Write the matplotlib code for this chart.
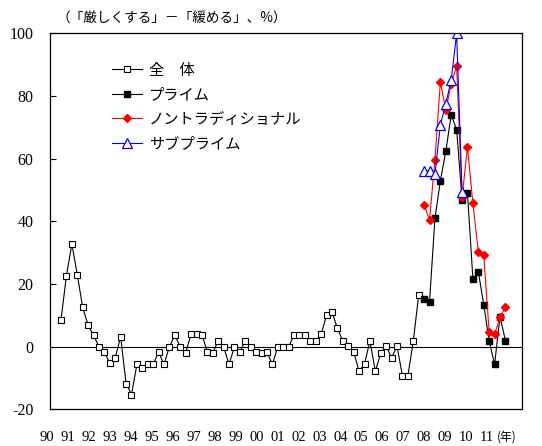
import numpy as np
import matplotlib.pyplot as plt

plt.rcParams['font.family'] = ['Liberation Serif', 'Noto Sans CJK JP']
plt.rcParams['axes.unicode_minus'] = False

# quarterly series, index 0 = first survey shown
total = [8.6, 22.7, 32.7, 23.0, 12.5, 6.8, 3.6, 0.0, -1.7, -5.3,
         -3.6, 3.2, -11.8, -15.3, -5.7, -6.9, -5.7, -5.7, -1.7, -5.7,
         0.0, 3.6, 0.0, -2.0, 4.0, 4.0, 3.8, -1.7, -2.0, 1.9,
         0.0, -5.7, 0.0, -1.7, 1.9, 0.0, -1.7, -2.0, -1.7, -5.7,
         0.0, 0.0, 0.0, 3.7, 3.7, 3.7, 1.8, 1.8, 3.9, 10.1,
         11.1, 5.8, 1.8, 0.2, -1.7, -7.9, -5.5, 1.8, -7.9, -2.0,
         0.2, -3.6, 0.2, -9.4, -9.4, 1.8, 16.5]
prime = [15.2, 14.4, 41.0, 53.0, 62.3, 74.0, 69.2, 46.9, 49.0, 21.6,
         23.9, 13.4, 1.9, -5.7, 9.6, 1.9]
nontrad = [45.3, 40.4, 59.7, 84.5, 75.5, 83.8, 89.5, 47.7, 63.6, 45.7,
           30.3, 29.3, 4.6, 4.0, 9.3, 12.7]
subprime = [56.0, 56.0, 55.1, 70.8, 77.5, 85.1, 100.0, 49.3]

year_labels = ['90', '91', '92', '93', '94', '95', '96', '97', '98', '99', '00',
               '01', '02', '03', '04', '05', '06', '07', '08', '09', '10', '11']

labels = ['全\u3000体', 'プライム', 'ノントラディショナル', 'サブプライム']

x_total = np.arange(len(total))
start = len(total)
x_prime = np.arange(start, start + len(prime))
x_nt = np.arange(start, start + len(nontrad))
x_sub = np.arange(start, start + len(subprime))

fig = plt.figure(figsize=(5.42, 4.46), dpi=100)
ax = fig.add_axes([0.0923, 0.0823, 0.8707, 0.843])

ax.axhline(0, color='black', lw=0.8, zorder=1)

ax.plot(x_total, total, color='black', lw=0.8, marker='s', markersize=5,
        markerfacecolor='white', markeredgecolor='black', markeredgewidth=0.8,
        label=labels[0])
ax.plot(x_prime, prime, color='black', lw=0.8, marker='s', markersize=5,
        markerfacecolor='black', label=labels[1])
ax.plot(x_nt, nontrad, color='red', lw=0.8, marker='D', markersize=4.5,
        markerfacecolor='red', markeredgecolor='red', label=labels[2])
ax.plot(x_sub, subprime, color='blue', lw=0.8, marker='^', markersize=7,
        markerfacecolor='white', markeredgecolor='blue', markeredgewidth=0.9,
        label=labels[3])

ax.set_xlim(-2.03, 85.05)
ax.set_ylim(-20, 100)
ax.set_yticks(np.arange(-20, 101, 20))
ax.tick_params(axis='y', direction='in', length=4, labelsize=11.5, pad=12)
ax.set_xticks([])
for s in ax.spines.values():
    s.set_linewidth(0.9)

# year labels under the axis
lab_x = np.linspace(-2.58, 78.6, len(year_labels))
for xl, t in zip(lab_x, year_labels):
    ax.text(xl, -0.075, t, transform=ax.get_xaxis_transform(), ha='center',
            va='center', fontsize=10.5, clip_on=False)
ax.text(lab_x[-1] + 1.9, -0.075, '(年)', transform=ax.get_xaxis_transform(),
        ha='left', va='center', fontsize=8.5,
        family=['Noto Sans CJK JP', 'DejaVu Sans'], clip_on=False)

fig.text(57 / 542, 1 - 19 / 446, '（「厳しくする」－「緩める」、%）', ha='left', va='center',
         fontsize=9.8, family=['Noto Sans CJK JP', 'DejaVu Sans'])

leg = ax.legend(loc='upper left', bbox_to_anchor=(0.115, 0.945), frameon=False,
                prop={'family': ['Noto Sans CJK JP'], 'size': 11},
                handlelength=2.0, handletextpad=0.4, labelspacing=0.49,
                borderpad=0)

fig.savefig('out.png', dpi=100)
